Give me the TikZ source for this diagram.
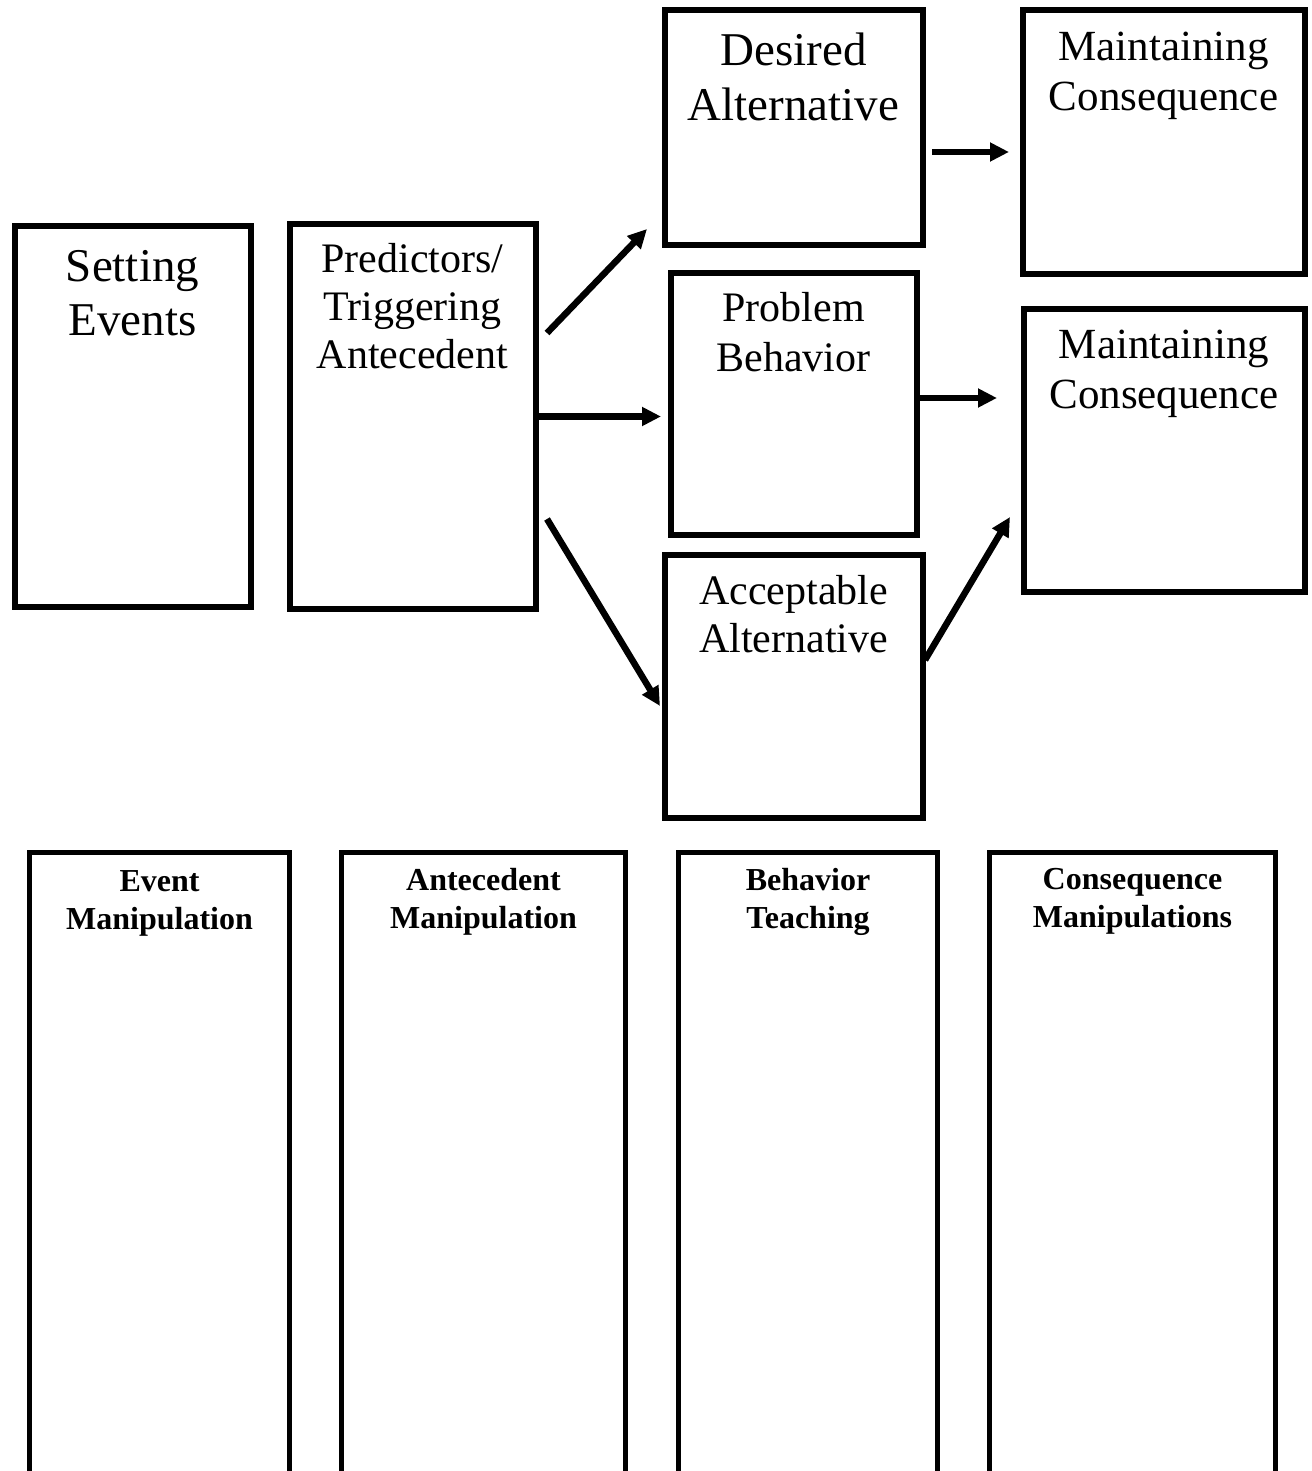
\documentclass[tikz,border=0pt]{standalone}
\usepackage{fontspec}
\setmainfont{Liberation Serif}
\usetikzlibrary{arrows.meta,calc}

\begin{document}
\begin{tikzpicture}[x=1pt, y=-1pt, inner sep=0, outer sep=0,
  box/.style={rectangle, draw=black, line width=6pt},
  column/.style={rectangle, draw=black, line width=5pt, anchor=north, minimum height=700pt},
  boxtext/.style={anchor=north, align=center},
  flow/.style={-{Triangle[length=19pt, width=18pt]}, line width=6.5pt}]
  \clip (0,0) rectangle (1311,1471);

  % upper row
  \node[box, minimum width=236pt, minimum height=380pt] (setting) at (132.5,416.5) {};
  \node[box, minimum width=246pt, minimum height=384pt] (pred) at (412.5,416.5) {};
  \node[box, minimum width=258pt, minimum height=235pt] (desired) at (793.5,128) {};
  \node[box, minimum width=246pt, minimum height=262pt] (problem) at (793.5,403.5) {};
  \node[box, minimum width=258pt, minimum height=263pt] (accept) at (793.5,686) {};
  \node[box, minimum width=282pt, minimum height=263pt] (mcone) at (1163.5,142) {};
  \node[box, minimum width=281pt, minimum height=283pt] (mctwo) at (1164,450) {};

  \node[boxtext, font={\fontsize{47}{54}\selectfont}] (setting text) at ([yshift=-23.5pt]setting.north) {Setting\\Events};
  \node[boxtext, font={\fontsize{42}{48}\selectfont}] (pred text) at ([yshift=-19pt]pred.north) {Predictors/\\Triggering\\Antecedent};
  \node[boxtext, font={\fontsize{47}{55}\selectfont}] (desired text) at ([yshift=-22.5pt]desired.north) {Desired\\Alternative};
  \node[boxtext, font={\fontsize{42}{50}\selectfont}] (problem text) at ([yshift=-19.5pt]problem.north) {Problem\\Behavior};
  \node[boxtext, font={\fontsize{42}{48}\selectfont}] (accept text) at ([yshift=-20.5pt]accept.north) {Acceptable\\Alternative};
  \node[boxtext, font={\fontsize{43}{50}\selectfont}] (mcone text) at ([yshift=-21.5pt]mcone.north) {Maintaining\\Consequence};
  \node[boxtext, font={\fontsize{43}{50}\selectfont}] (mctwo text) at ([yshift=-21.5pt]mctwo.north) {Maintaining\\Consequence};

  % arrows
  \draw[flow] ($(pred.east)+(11.5,-83.5)$) -- ($(desired.south west)+(-17.5,-16.5)$);
  \draw[flow] (pred.east) -- ($(pred.east -| problem.west)+(-9.5,0)$);
  \draw[flow] ($(pred.east)+(11.5,102.5)$) -- ($(accept.west)+(-4.5,20)$);
  \draw[flow] ($(desired.east)+(9.5,24)$) -- ($(desired.east -| mcone.west)+(-13.5,24)$);
  \draw[flow] ($(problem.east)+(0,-5.5)$) -- ($(problem.east -| mctwo.west)+(-26.5,-5.5)$);
  \draw[flow] ($(accept.east)+(2.5,-26)$) -- ($(mctwo.west)+(-13.5,67)$);

  % lower row, open at the page foot
  \node[column, minimum width=260pt] (event) at (159.5,852.5) {};
  \node[column, minimum width=284pt] (antec) at (483.5,852.5) {};
  \node[column, minimum width=259pt] (teach) at (808,852.5) {};
  \node[column, minimum width=286pt] (conseq) at (1132.5,852.5) {};

  \node[boxtext, font={\fontsize{32}{38}\selectfont\bfseries}] (event text) at ([yshift=-18pt]event.north) {Event\\Manipulation};
  \node[boxtext, font={\fontsize{32}{38}\selectfont\bfseries}] (antec text) at ([yshift=-15.5pt]antec.north) {Antecedent\\Manipulation};
  \node[boxtext, font={\fontsize{32}{38}\selectfont\bfseries}] (teach text) at ([yshift=-15.5pt]teach.north) {Behavior\\Teaching};
  \node[boxtext, font={\fontsize{32}{38}\selectfont\bfseries}] (conseq text) at ([yshift=-15.5pt]conseq.north) {Consequence\\Manipulations};
\end{tikzpicture}
\end{document}
